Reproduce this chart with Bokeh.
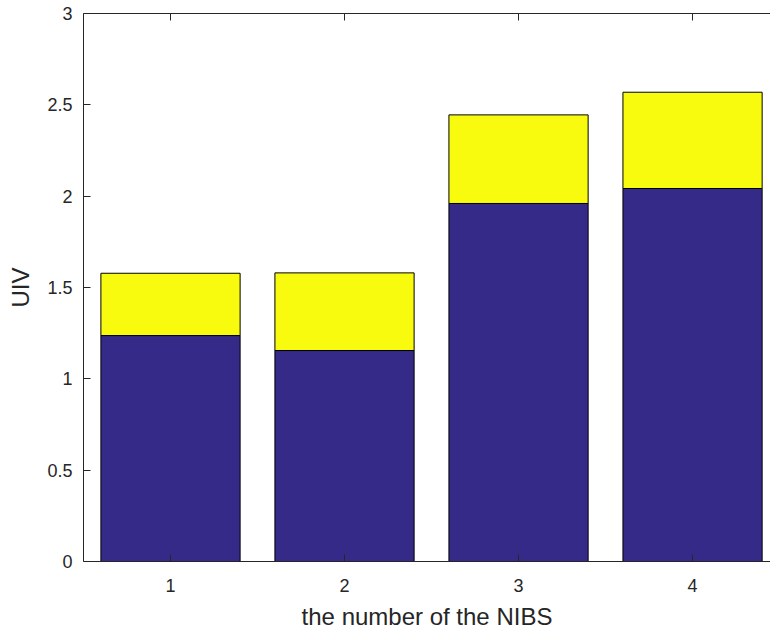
from bokeh.plotting import figure
from bokeh.models import Range1d, FixedTicker, LinearAxis, CustomJSTickFormatter, ColumnDataSource
from bokeh.embed import file_html
from bokeh.resources import INLINE

categories = [1, 2, 3, 4]
blue_values = [1.237, 1.155, 1.960, 2.042]
yellow_values = [0.341, 0.425, 0.485, 0.527]
y_ticks = [0, 0.5, 1, 1.5, 2, 2.5, 3]
x_label = "the number of the NIBS"
y_label = "UIV"

source = ColumnDataSource(dict(x=categories, blue=blue_values, yellow=yellow_values))

FONT = "Liberation Sans"
AX = "#262626"

p = figure(width=770, height=633, output_backend="svg", toolbar_location=None,
           x_range=Range1d(0.5, 4.448), y_range=Range1d(0, 3),
           min_border_left=83, min_border_right=0, min_border_top=13, min_border_bottom=72,
           x_axis_location=None, y_axis_location=None)
p.outline_line_color = None
p.grid.visible = False
p.background_fill_color = "white"

p.vbar_stack(["blue", "yellow"], x="x", width=0.8, source=source,
             fill_color=["#352a87", "#f9fb0e"], line_color="black", line_width=1)

def style(ax):
    ax.axis_line_color = AX
    ax.axis_line_width = 1
    ax.major_tick_line_color = AX
    ax.major_tick_in = 7
    ax.major_tick_out = 0
    ax.minor_tick_line_color = None
    ax.major_label_text_font = FONT
    ax.major_label_text_color = AX
    ax.major_label_text_font_size = "18px"
    ax.axis_label_text_font = FONT
    ax.axis_label_text_font_style = "normal"
    ax.axis_label_text_color = AX
    ax.axis_label_text_font_size = "24px"

fmt = CustomJSTickFormatter(code="return tick.toString();")

xaxis = LinearAxis(ticker=FixedTicker(ticks=categories), formatter=fmt, axis_label=x_label)
style(xaxis)
xaxis.major_label_standoff = 17
xaxis.axis_label_standoff = 8
p.add_layout(xaxis, "below")

yaxis = LinearAxis(ticker=FixedTicker(ticks=y_ticks), formatter=fmt, axis_label=y_label)
style(yaxis)
yaxis.major_label_standoff = 11
yaxis.axis_label_standoff = 10
p.add_layout(yaxis, "left")

top = LinearAxis(ticker=FixedTicker(ticks=categories),
                 formatter=CustomJSTickFormatter(code="return '';"))
style(top)
top.major_label_standoff = 0
top.major_label_text_font_size = "1px"
p.add_layout(top, "above")

open("out.html", "w").write(file_html(p, INLINE))
